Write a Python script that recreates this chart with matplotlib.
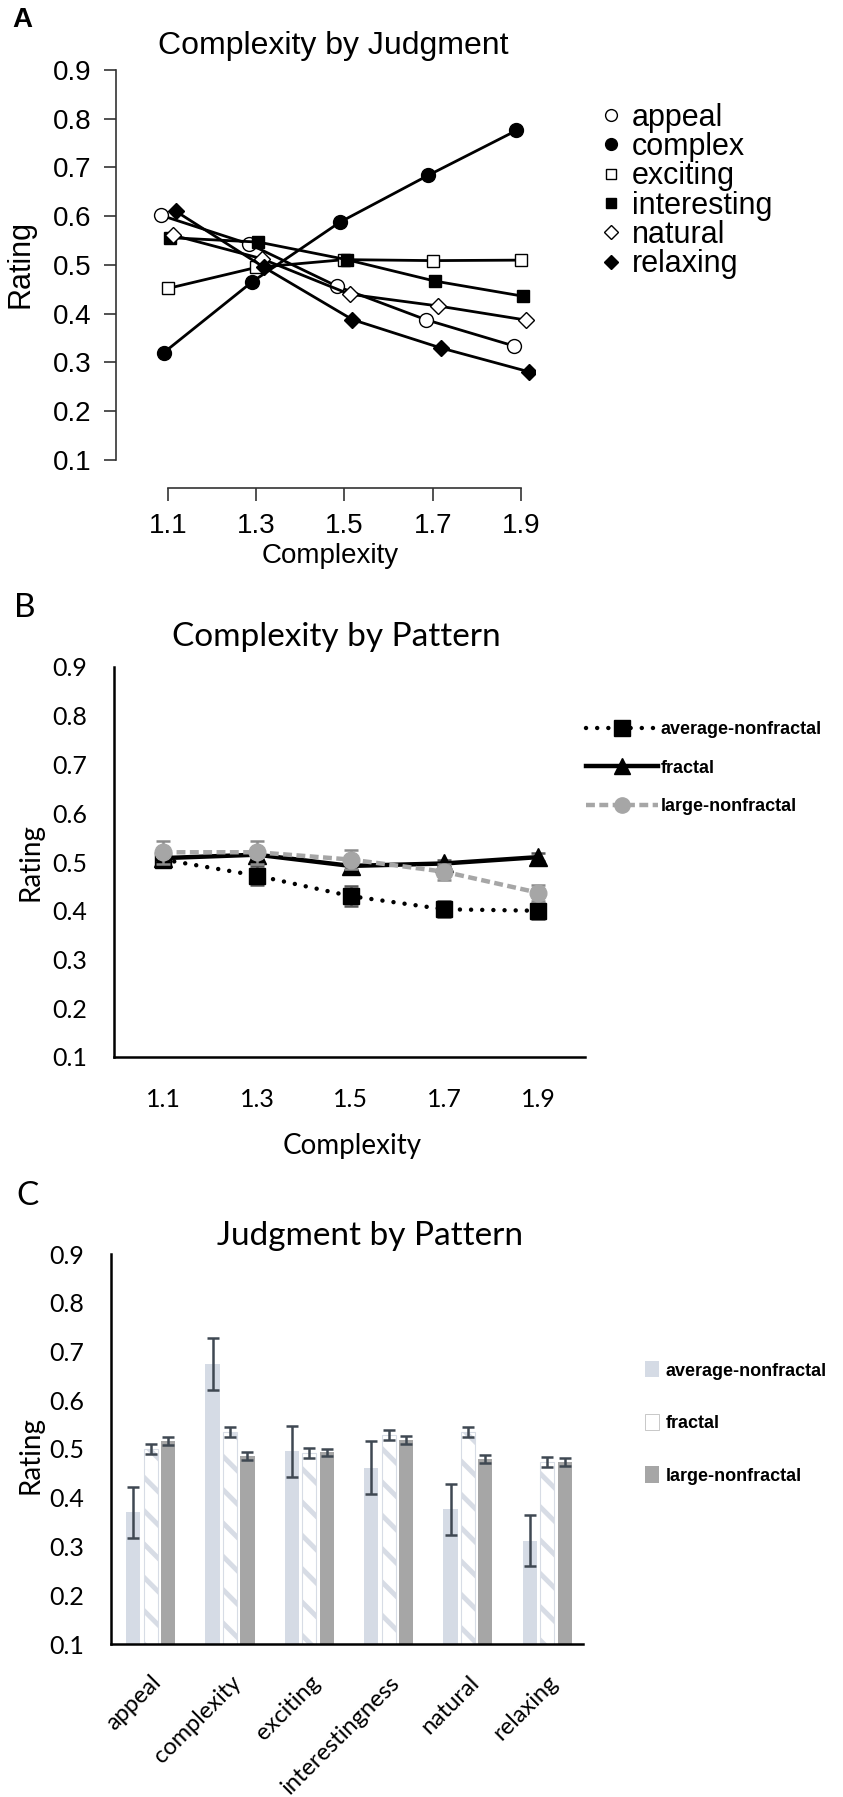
import matplotlib
matplotlib.use("Agg")
import matplotlib.pyplot as plt
import matplotlib.transforms as mtransforms
from matplotlib import font_manager
from matplotlib.lines import Line2D
from matplotlib.patches import Patch
import numpy as np

# Panel A: complexity by judgment
complexity = [1.1, 1.3, 1.5, 1.7, 1.9]
appeal = [0.602, 0.543, 0.456, 0.388, 0.334]
complex_ = [0.320, 0.465, 0.588, 0.684, 0.776]
exciting = [0.452, 0.495, 0.511, 0.509, 0.510]
interesting = [0.556, 0.547, 0.511, 0.467, 0.436]
natural = [0.561, 0.513, 0.440, 0.416, 0.387]
relaxing = [0.610, 0.495, 0.388, 0.330, 0.281]
judgments = ["appeal", "complex", "exciting", "interesting", "natural", "relaxing"]

# Panel B: complexity by pattern
avg_nf = [0.505, 0.472, 0.430, 0.403, 0.400]
avg_nf_err = [0.016, 0.020, 0.020, 0.016, 0.016]
fractal = [0.508, 0.515, 0.492, 0.497, 0.510]
fractal_err = [0.008, 0.008, 0.008, 0.008, 0.008]
large_nf = [0.520, 0.520, 0.505, 0.480, 0.437]
large_nf_err = [0.024, 0.024, 0.020, 0.016, 0.016]
patterns = ["average-nonfractal", "fractal", "large-nonfractal"]

# Panel C: judgment by pattern
categories = ["appeal", "complexity", "exciting", "interestingness", "natural", "relaxing"]
bar_avg = [0.370, 0.675, 0.495, 0.462, 0.376, 0.312]
bar_avg_err = [0.053, 0.053, 0.053, 0.054, 0.053, 0.052]
bar_fractal = [0.500, 0.535, 0.492, 0.528, 0.535, 0.473]
bar_fractal_err = [0.010, 0.010, 0.010, 0.010, 0.010, 0.010]
bar_large = [0.517, 0.486, 0.493, 0.518, 0.479, 0.474]
bar_large_err = [0.008, 0.008, 0.007, 0.008, 0.008, 0.008]

W, H = 843, 1797
ARIAL = ["Liberation Sans", "DejaVu Sans"]
CALIBRI = ["Lato", "DejaVu Sans"]
installed = {f.name for f in font_manager.fontManager.ttflist}
if "Liberation Sans Narrow" in installed:
    NARROW, LEG_SIZE = ["Liberation Sans Narrow", "DejaVu Sans"], 15.5
else:
    NARROW, LEG_SIZE = ["Liberation Sans", "DejaVu Sans"], 13


def box(x0, y0, x1, y1):
    # pixel box -> figure fraction rect
    return [x0 / W, 1 - y1 / H, (x1 - x0) / W, (y1 - y0) / H]


def ftext(x, y, s, **kw):
    # text placed by pixel centre
    kw.setdefault("ha", "center")
    kw.setdefault("va", "center")
    return fig.text(x / W, 1 - y / H, s, **kw)


ticks01 = np.round(np.arange(0.1, 0.91, 0.1), 1)
tick_txt = [f"{v:.1f}" for v in ticks01]

fig = plt.figure(figsize=(W / 100, H / 100), dpi=100)

# ---------------- A ----------------
axA = fig.add_axes(box(116, 70, 535, 460))
for s in ["top", "right"]:
    axA.spines[s].set_visible(False)
axA.spines["bottom"].set_position(("outward", 20))
series = [appeal, complex_, exciting, interesting, natural, relaxing]
markers = ["o", "o", "s", "s", "D", "D"]
fills = ["white", "black", "white", "black", "white", "black"]
msizes = [10, 10, 9, 9, 8.5, 8.5]
jitter = [-0.016, -0.010, 0.0, 0.005, 0.012, 0.018]
for vals, m, fc, ms, dx in zip(series, markers, fills, msizes, jitter):
    axA.plot(np.array(complexity) + dx, vals, color="black", lw=2.0,
             marker=m, mfc=fc, mec="black", ms=ms, mew=1.0)
axA.set_xlim(0.982, 1.932)
axA.set_ylim(0.1, 0.9)
axA.spines["left"].set_bounds(0.1, 0.9)
axA.spines["bottom"].set_bounds(1.1, 1.9)
for s in ["left", "bottom"]:
    axA.spines[s].set_color("#333333")
    axA.spines[s].set_linewidth(1.2)
axA.set_yticks(ticks01)
axA.set_yticklabels(tick_txt, family=ARIAL, fontsize=20)
axA.set_xticks(complexity)
axA.set_xticklabels([str(c) for c in complexity], family=ARIAL, fontsize=20)
axA.tick_params(length=9, width=1.2, color="#333333", pad=9)
ftext(21, 264, "Rating", family=ARIAL, fontsize=22, rotation=90)
ftext(330, 556, "Complexity", family=ARIAL, fontsize=20)
ftext(333, 46, "Complexity by Judgment", family=ARIAL, fontsize=23)
handlesA = [Line2D([], [], ls="none", marker=m, mfc=fc, mec="black", ms=ms * 0.85, mew=1.0)
            for m, fc, ms in zip(markers, fills, msizes)]
fig.legend(handlesA, judgments, loc="center left", bbox_to_anchor=(600 / W, 1 - 191 / H),
           frameon=False, prop={"family": ARIAL, "size": 22}, handlelength=0.7,
           handletextpad=0.35, labelspacing=-0.02, borderaxespad=0, borderpad=0)
ftext(12, 20, "A", family=ARIAL, fontsize=20, fontweight="bold", ha="left")

# ---------------- B ----------------
axB = fig.add_axes(box(114, 667, 585, 1057))
dotted = (0, (0.01, 2.5))
dashed = (0, (2, 1))
axB.errorbar(complexity, avg_nf, yerr=avg_nf_err, color="black", ls=dotted, lw=3.2,
             marker="s", ms=11, mfc="black", mec="black", ecolor="#555555",
             elinewidth=1.8, capsize=5, capthick=1.8, dash_capstyle="round", zorder=2)
axB.errorbar(complexity, fractal, yerr=fractal_err, color="black", ls="-", lw=3.2,
             marker="^", ms=13, mfc="black", mec="black", ecolor="#555555",
             elinewidth=1.8, capsize=5, capthick=1.8, zorder=3)
axB.errorbar(complexity, large_nf, yerr=large_nf_err, color="#a6a6a6", ls=dashed, lw=3.2,
             marker="o", ms=12, mfc="#a6a6a6", mec="#a6a6a6", ecolor="#8c8c8c",
             elinewidth=1.8, capsize=5, capthick=1.8, zorder=4)
axB.set_xlim(0.995, 2.0)
axB.set_ylim(0.1, 0.9)
axB.set_yticks(ticks01)
axB.set_yticklabels(tick_txt, family=CALIBRI, fontsize=18)
axB.set_xticks(complexity)
axB.set_xticklabels([str(c) for c in complexity], family=CALIBRI, fontsize=18)
for s in ["top", "right"]:
    axB.spines[s].set_visible(False)
for s in ["left", "bottom"]:
    axB.spines[s].set_linewidth(1.8)
axB.tick_params(axis="y", length=0, pad=19)
axB.tick_params(axis="x", length=0, pad=22)
ftext(30, 862, "Rating", family=CALIBRI, fontsize=20, rotation=90)
ftext(352, 1146, "Complexity", family=CALIBRI, fontsize=20)
ftext(336, 637, "Complexity by Pattern", family=CALIBRI, fontsize=24)
handlesB = [
    Line2D([], [], color="black", ls=dotted, lw=3.2, marker="s", ms=11, dash_capstyle="round"),
    Line2D([], [], color="black", ls="-", lw=3.2, marker="^", ms=12),
    Line2D([], [], color="#a6a6a6", ls=dashed, lw=3.2, marker="o", ms=11),
]
fig.legend(handlesB, patterns, loc="center left", bbox_to_anchor=(586 / W, 1 - 768 / H),
           frameon=False, prop={"family": NARROW, "size": LEG_SIZE, "weight": "bold"},
           handlelength=52 / LEG_SIZE, handletextpad=0.15, labelspacing=1.2,
           borderaxespad=0, borderpad=0)
ftext(14, 608, "B", family=CALIBRI, fontsize=24, ha="left")

# ---------------- C ----------------
axC = fig.add_axes(box(111, 1254, 583, 1644))
x = np.arange(len(categories))
step, bw = 0.22, 0.178
ekw = dict(ecolor="#3f4852", elinewidth=1.8, capsize=4, capthick=1.8)
plt.rcParams["hatch.linewidth"] = 3.5
axC.bar(x - step, np.array(bar_avg) - 0.1, bw, bottom=0.1, color="#d5dbe5",
        yerr=bar_avg_err, error_kw=ekw)
axC.bar(x, np.array(bar_fractal) - 0.1, bw, bottom=0.1, color="white",
        edgecolor="#d7dce5", hatch="\\", linewidth=0.8, yerr=bar_fractal_err, error_kw=ekw)
axC.bar(x + step, np.array(bar_large) - 0.1, bw, bottom=0.1, color="#a6a6a6",
        yerr=bar_large_err, error_kw=ekw)
axC.set_xlim(-0.5, 5.45)
axC.set_ylim(0.1, 0.9)
axC.set_yticks(ticks01)
axC.set_yticklabels(tick_txt, family=CALIBRI, fontsize=18)
axC.set_xticks(x)
axC.set_xticklabels(categories, family=CALIBRI, fontsize=17, rotation=45,
                    ha="right", va="top", rotation_mode="anchor")
shift = mtransforms.ScaledTranslation(8 / 100, 0, fig.dpi_scale_trans)
for lab in axC.get_xticklabels():
    lab.set_transform(lab.get_transform() + shift)
for s in ["top", "right"]:
    axC.spines[s].set_visible(False)
for s in ["left", "bottom"]:
    axC.spines[s].set_linewidth(1.8)
axC.tick_params(axis="y", length=0, pad=19)
axC.tick_params(axis="x", length=0, pad=20)
ftext(30, 1455, "Rating", family=CALIBRI, fontsize=20, rotation=90)
ftext(370, 1236, "Judgment by Pattern", family=CALIBRI, fontsize=24)
handlesC = [
    Patch(facecolor="#d5dbe5", edgecolor="none"),
    Patch(facecolor="white", edgecolor="#bfbfbf", lw=0.6),
    Patch(facecolor="#a6a6a6", edgecolor="none"),
]
fig.legend(handlesC, patterns, loc="center left", bbox_to_anchor=(645 / W, 1 - 1423 / H),
           frameon=False, prop={"family": NARROW, "size": LEG_SIZE, "weight": "bold"},
           handlelength=0.8, handleheight=1.0, handletextpad=0.35, labelspacing=1.9,
           borderaxespad=0, borderpad=0)
ftext(16, 1196, "C", family=CALIBRI, fontsize=24, ha="left")

fig.savefig("out.png", dpi=100, facecolor="white")
